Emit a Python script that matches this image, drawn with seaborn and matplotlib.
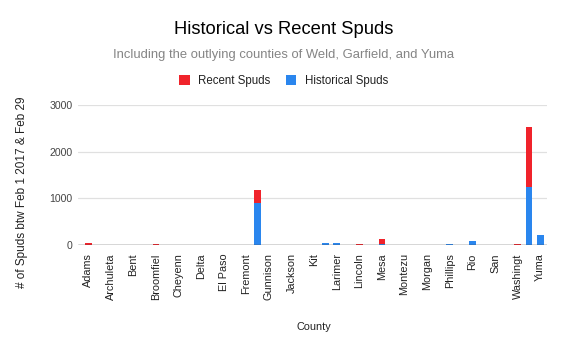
import matplotlib
matplotlib.use("Agg")
import matplotlib.pyplot as plt
from matplotlib.patches import Patch
import pandas as pd
import seaborn as sns

counties = ["Adams", "Arapahoe", "Archuleta", "Baca", "Bent", "Boulder", "Broomfield",
            "Chaffee", "Cheyenne", "Crowley", "Delta", "Dolores", "El Paso", "Elbert",
            "Fremont", "Garfield", "Gunnison", "Huerfano", "Jackson", "Kiowa", "Kit Carson",
            "La Plata", "Larimer", "Las Animas", "Lincoln", "Logan", "Mesa", "Moffat",
            "Montezuma", "Montrose", "Morgan", "Otero", "Phillips", "Prowers", "Rio Blanco",
            "Routt", "San Miguel", "Sedgwick", "Washington", "Weld", "Yuma"]
historical = [10, 3, 0, 2, 0, 6, 10,
              2, 8, 0, 0, 0, 0, 2,
              0, 900, 0, 2, 0, 2, 4,
              45, 35, 3, 5, 3, 20, 3,
              5, 0, 4, 2, 25, 3, 85,
              3, 2, 5, 8, 1240, 205]
recent = [30, 0, 0, 0, 0, 2, 5,
          0, 2, 0, 0, 0, 0, 0,
          0, 270, 0, 0, 0, 0, 0,
          5, 10, 0, 8, 0, 110, 0,
          0, 0, 0, 0, 0, 0, 5,
          0, 0, 0, 3, 1280, 5]
y_ticks = [0, 1000, 2000, 3000]
tick_labels = ["Adams", "Archuleta", "Bent", "Broomfiel", "Cheyenn", "Delta", "El Paso",
               "Fremont", "Gunnison", "Jackson", "Kit", "Larimer", "Lincoln", "Mesa",
               "Montezu", "Morgan", "Phillips", "Rio", "San", "Washingt", "Yuma"]

RED = "#f0232b"
BLUE = "#2a86ee"

sns.set_theme(style="white")
plt.rcParams['font.family'] = ['Liberation Sans', 'DejaVu Sans']

df = pd.DataFrame({"County": counties, "Historical": historical, "Recent": recent})
df["Total"] = df["Historical"] + df["Recent"]

W, H = 567, 350
fig = plt.figure(figsize=(W / 100, H / 100), dpi=100)
fig.patch.set_facecolor("white")
ax = fig.add_axes([78 / W, (H - 245) / H, (547 - 78) / W, 140 / H])

sns.barplot(data=df, x="County", y="Total", order=counties, color=RED,
            saturation=1, width=0.6, ax=ax, linewidth=0, errorbar=None)
sns.barplot(data=df, x="County", y="Historical", order=counties, color=BLUE,
            saturation=1, width=0.6, ax=ax, linewidth=0, errorbar=None)

ax.set_ylim(0, 3000)
ax.set_xlim(-0.9, 40.6)
ax.set_yticks(y_ticks)
ax.set_yticklabels([str(v) for v in y_ticks], fontsize=7.6, color="#444444")
ax.set_xticks(range(0, len(counties), 2))
ax.set_xticklabels(tick_labels, rotation=90, fontsize=7.8, color="#222222",
                   ha="center", va="top")
ax.tick_params(axis="both", length=0)
ax.tick_params(axis="x", pad=6)
ax.tick_params(axis="y", pad=4)
ax.set_xlabel("")
ax.set_ylabel("")
for s in ax.spines.values():
    s.set_visible(False)
ax.set_axisbelow(True)
ax.yaxis.grid(True, color="#e0e0e0", linewidth=0.9)
ax.xaxis.grid(False)
ax.axhline(0, color="#444444", linewidth=1.0, zorder=5)

fig.text(0.5, 1 - 29 / H, "Historical vs Recent Spuds", ha="center", va="center",
         fontsize=13.2, color="#000000")
fig.text(0.5, 1 - 55 / H, "Including the outlying counties of Weld, Garfield, and Yuma",
         ha="center", va="center", fontsize=9.4, color="#858585")
handles = [Patch(facecolor=RED, edgecolor="none"), Patch(facecolor=BLUE, edgecolor="none")]
fig.legend(handles, ["Recent Spuds", "Historical Spuds"], loc="center",
           bbox_to_anchor=(0.5, 1 - 81 / H), ncol=2, frameon=False, fontsize=8.3,
           handlelength=0.9, handleheight=0.9, handletextpad=0.7, columnspacing=1.4,
           labelcolor="#222222")
fig.text(22 / W, 1 - 192 / H, "# of Spuds btw Feb 1 2017 & Feb 29", rotation=90,
         ha="center", va="center", fontsize=8.5, color="#222222")
fig.text(314 / W, 1 - 327 / H, "County", ha="center", va="center",
         fontsize=7.8, color="#222222")

fig.savefig("out.png", dpi=100, facecolor="white")
